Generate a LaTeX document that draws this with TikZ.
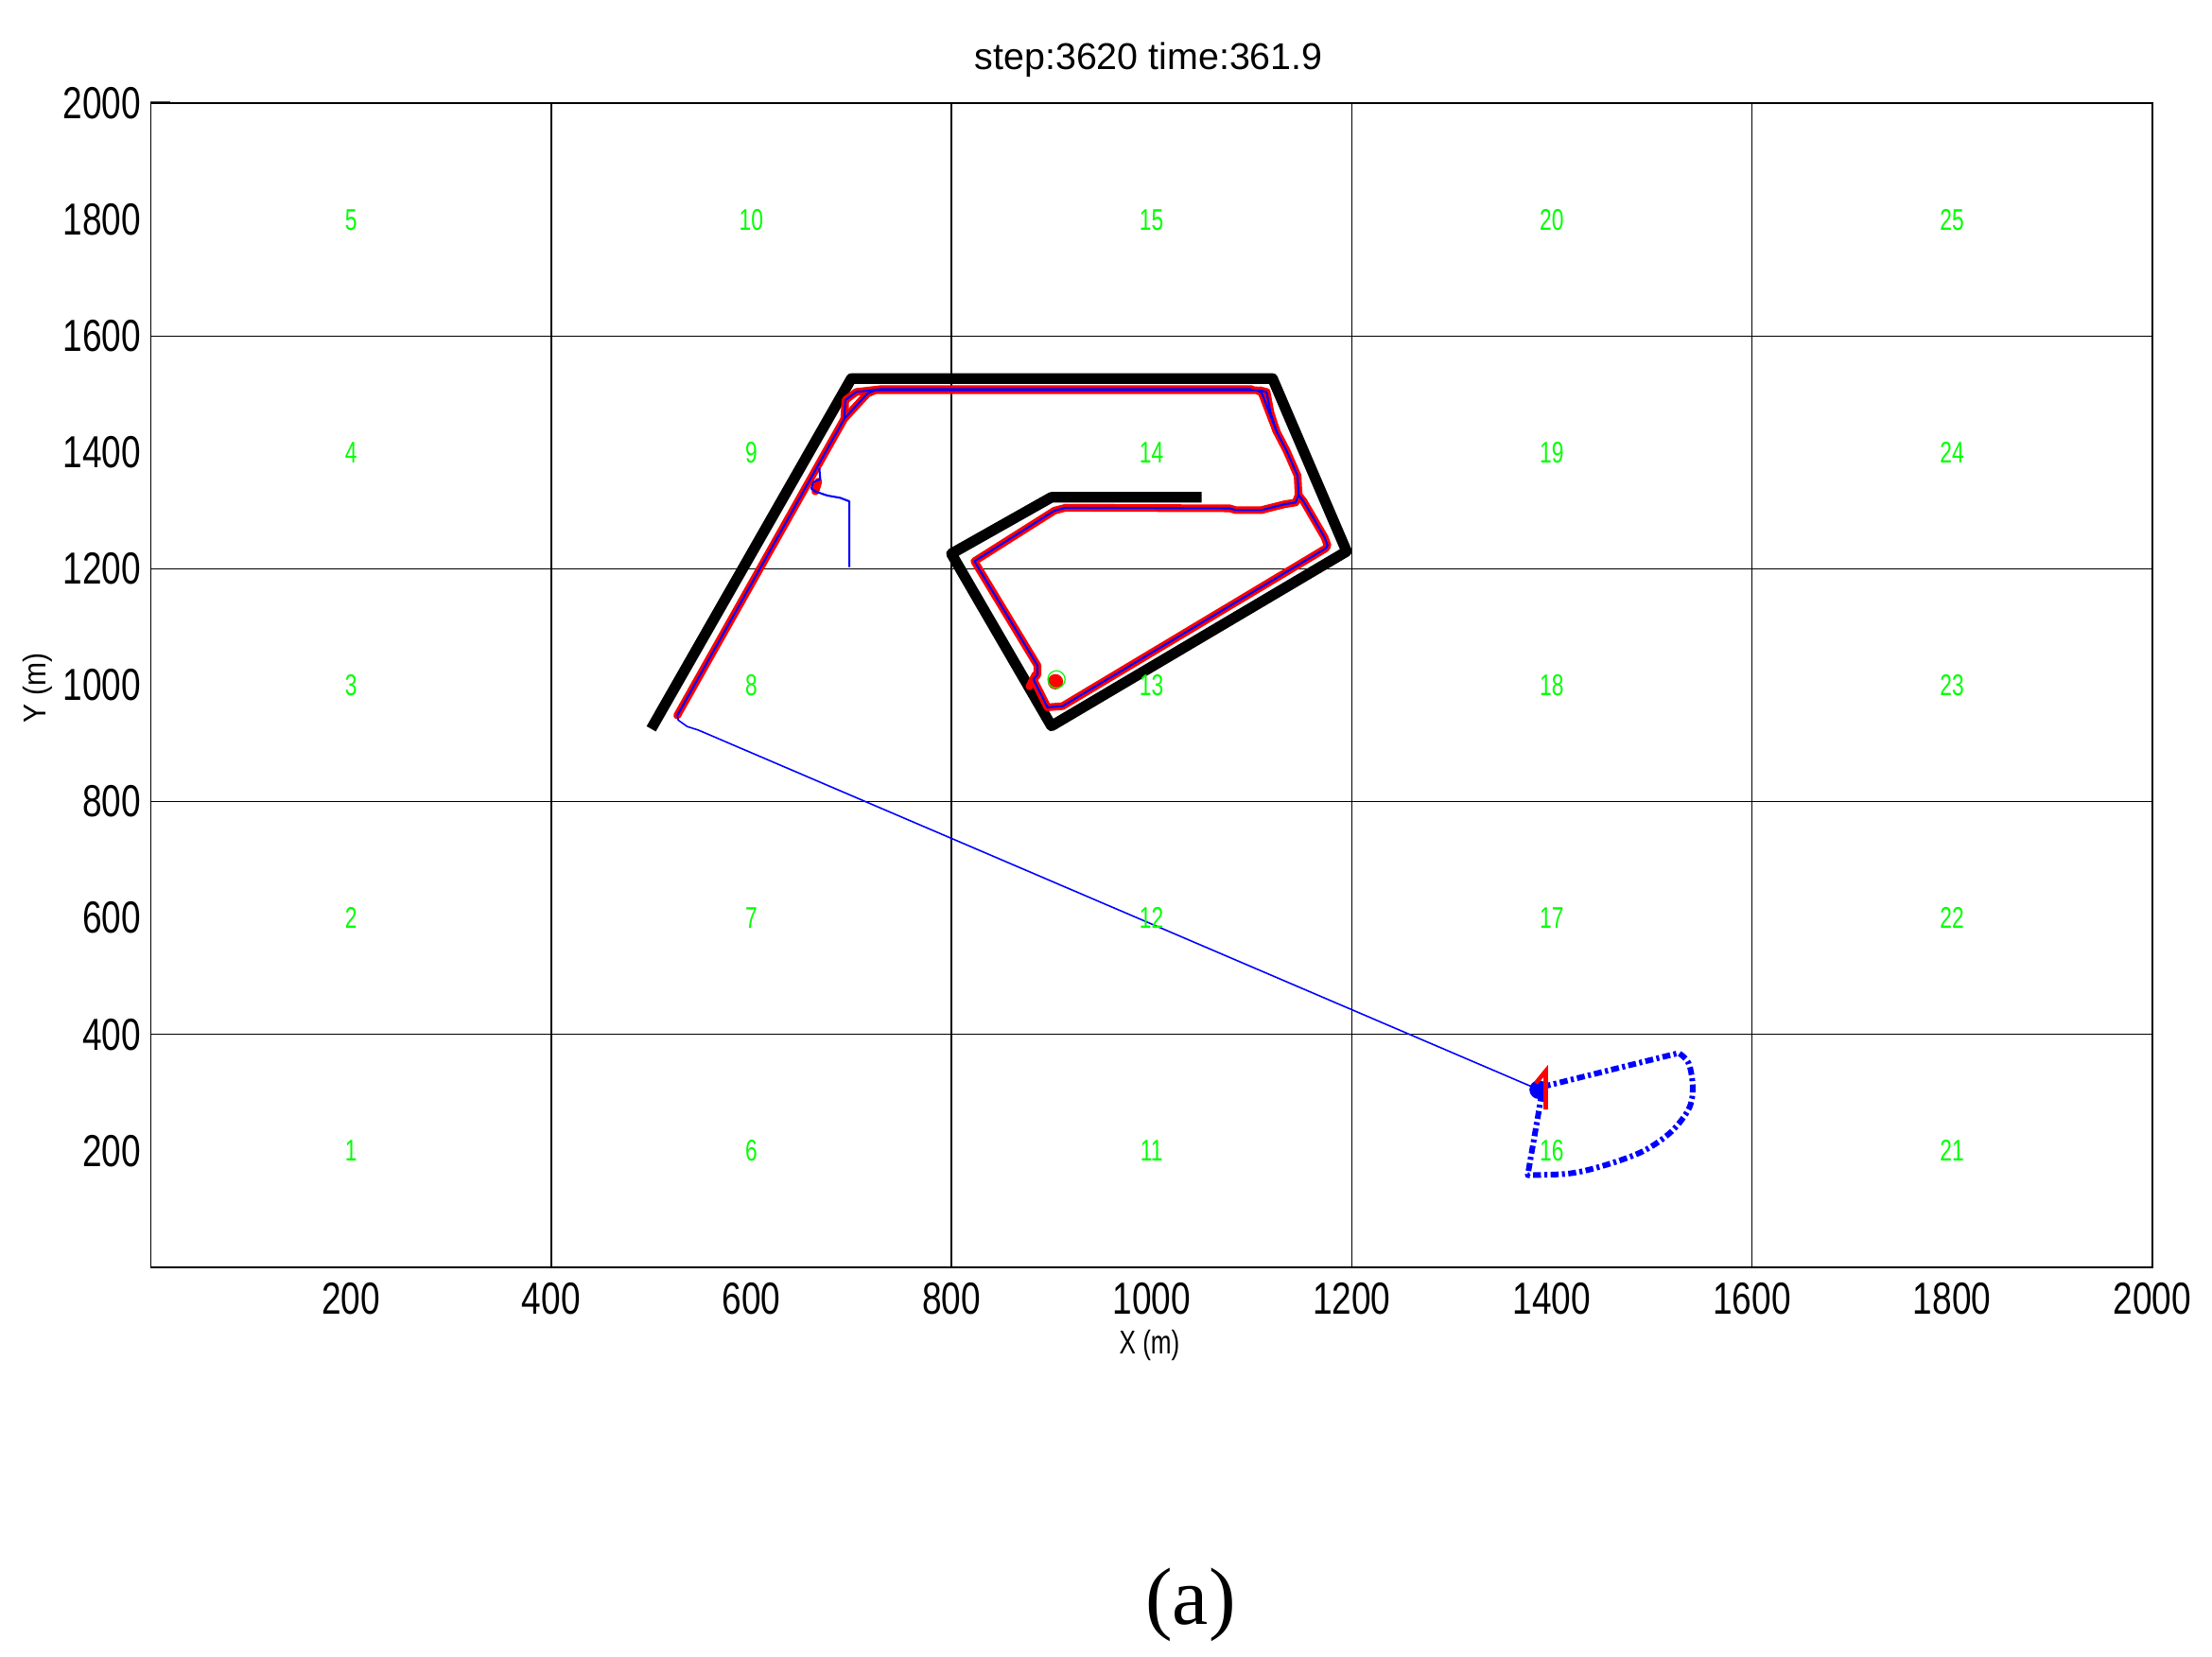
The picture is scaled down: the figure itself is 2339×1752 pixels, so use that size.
\documentclass[tikz,border=0pt]{standalone}
\usepackage{fontspec}
\setmainfont{Liberation Sans}
\newfontfamily\seriffont{Liberation Serif}
\begin{document}
\begin{tikzpicture}[x=0.01cm, y=-0.01cm,
  ticklab/.style={font=\fontsize{13.5}{15}\selectfont, inner sep=0pt, xscale=0.78},
  celllab/.style={font=\fontsize{9}{10}\selectfont, text=green, inner sep=0pt, xscale=0.72},
  gridline/.style={line width=0.4pt, black},
  wall/.style={line width=3.2pt, black, line join=round},
  redpath/.style={line width=2.3pt, red, line join=round, line cap=round},
  bluepath/.style={line width=0.6pt, blue, line join=round},
  planpath/.style={line width=1.7pt, blue, line join=round, dash pattern=on 2.4pt off 1pt on 0.9pt off 1pt}
]
\fill[white] (0,0) rectangle (2339,1752);
\useasboundingbox (0,0) rectangle (2339,1752);

% title and labels (pixel coordinates)
\node[font=\fontsize{11.2}{13}\selectfont, anchor=base, inner sep=0pt] (title) at (1214.7,73.3) {step:3620 time:361.9};
\node[font=\fontsize{9.9}{11}\selectfont, anchor=base, inner sep=0pt, xscale=0.75] (xlab) at (1215.5,1431.7) {X (m)};
\node[font=\fontsize{9.5}{11}\selectfont, anchor=base, inner sep=0pt, rotate=90, xscale=0.9] (ylab) at (48.3,727.5) {Y (m)};
\node[font=\fontsize{24.4}{28}\selectfont\seriffont, anchor=base, inner sep=0pt] (cap) at (1259,1717) {(a)};
\draw[line width=0.4pt, black!70] (159,107.7) -- (180,107.7);

\begin{scope}[shift={(1.595cm,-13.39cm)}, x=0.010579cm, y=0.006145cm]
  % grid
  \foreach \g in {400,800,1200,1600} {
    \draw[gridline] (\g,0) -- (\g,2000);
    \draw[gridline] (0,\g) -- (2000,\g);
  }
  \draw[line width=0.5pt] (0,0) rectangle (2000,2000);

  % tick labels
  \foreach \v in {200,400,...,2000} {
    \node[ticklab, anchor=east] (yt\v) at (-9.4,\v) {\v};
    \node[ticklab] (xt\v) at (\v,-54) {\v};
  }

  % walls
  \draw[wall] (500,925) -- (700,1527) -- (1121,1527) -- (1195,1230) -- (900,930)
     -- (800,1226) -- (900,1323) -- (1050,1323);

  % red executed path
  \draw[redpath] (526,948) -- (693,1458) -- (716,1501) -- (724,1507) -- (1105,1507)
     -- (1110,1503) -- (1125,1436) -- (1135,1403) -- (1146,1360) -- (1147,1327)
     -- (1152,1316) -- (1173,1254) -- (1176,1240) -- (1174,1235) -- (911,964)
     -- (896,962) -- (882,1010) -- (886,1018) -- (886,1034) -- (823,1213)
     -- (903,1300) -- (914,1305) -- (1078,1304) -- (1084,1301) -- (1110,1301)
     -- (1119,1305) -- (1133,1311) -- (1144,1314) -- (1147,1327);
  \draw[redpath] (693,1458) -- (694,1490) -- (705,1504) -- (730,1509) -- (1100,1509);
  \draw[redpath] (1108,1507) -- (1115,1504) -- (1119,1468) -- (1125,1436);
  \draw[redpath] (878,998) -- (884,1018);
  \draw[redpath] (664,1333) -- (667,1350);

  % blue path
  \draw[bluepath] (526,948) -- (693,1458) -- (716,1501) -- (724,1507) -- (1105,1507)
     -- (1110,1503) -- (1125,1436) -- (1135,1403) -- (1146,1360) -- (1147,1327)
     -- (1152,1316) -- (1173,1254) -- (1176,1240) -- (1174,1235) -- (911,964)
     -- (896,962) -- (882,1010) -- (886,1018) -- (886,1034) -- (823,1213)
     -- (903,1300) -- (914,1305) -- (1078,1304) -- (1084,1301) -- (1110,1301)
     -- (1119,1305) -- (1133,1311) -- (1144,1314) -- (1147,1327);
  \draw[bluepath] (693,1458) -- (694,1490) -- (705,1504) -- (730,1509) -- (1100,1509);
  \draw[bluepath] (1108,1507) -- (1115,1504) -- (1119,1468) -- (1125,1436);
  % branch from the start cell
  \draw[bluepath] (698,1203) -- (698,1316) -- (689,1322) -- (676,1326) -- (664,1333)
     -- (660,1338) -- (662,1349) -- (669,1354) -- (668,1373);
  % travel to the robot
  \draw[blue, line width=0.45pt, line join=round] (526,948) -- (527,940) -- (536,929)
     -- (547,923) -- (1387,305);

  % planned loop
  \draw[planpath] (1391,310) -- (1527,368)
     -- plot[smooth, tension=0.55] coordinates {(1527,368) (1537,350) (1541,308) (1537,272) (1519,232) (1491,199) (1453,175) (1418,161) (1376,158)}
     -- (1387,267) -- cycle;

  % robot marker
  \fill[blue] (1387,305) circle (2.8pt);
  \draw[red, line width=1.3pt, line join=miter] (1384,316) -- (1394,337) -- (1394,271);

  % target / start markers
  \fill[red] (904,1006) circle (2.3pt);
  \draw[green, line width=0.35pt] (905,1010) circle (2.6pt);

  % cell numbers
  \foreach \c in {0,...,4} {
    \foreach \r in {0,...,4} {
      \pgfmathtruncatemacro{\k}{5*\c+\r+1}
      \node[celllab] (cell\k) at ({200+400*\c},{200+400*\r}) {\k};
    }
  }
\end{scope}
\end{tikzpicture}
\end{document}
